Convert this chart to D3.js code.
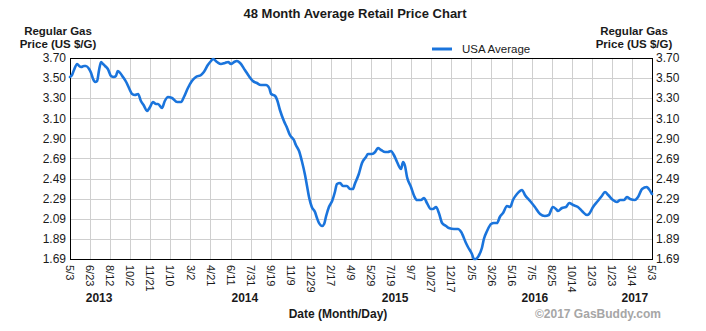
<!DOCTYPE html>
<html>
<head>
<meta charset="utf-8">
<script src="https://cdn.jsdelivr.net/npm/d3@7"></script>
<style>
  html, body { margin: 0; padding: 0; background: #fff; }
  svg { display: block; font-family: "Liberation Sans", Arial, sans-serif; }
</style>
</head>
<body>
<svg id="chart" width="706" height="331"></svg>
<script>
// ---------- DATA ----------
const title = "48 Month Average Retail Price Chart";
const seriesName = "USA Average";
const startDate = "2013-05-03";
const endDate = "2017-05-03";

const dates = [
"2013-05-03","2013-05-08","2013-05-13","2013-05-21","2013-05-26","2013-05-31","2013-06-07","2013-06-12","2013-06-20","2013-06-25",
"2013-06-30","2013-07-05","2013-07-10","2013-07-15","2013-07-20","2013-07-25","2013-07-30","2013-08-06","2013-08-14","2013-08-21",
"2013-08-26","2013-08-31","2013-09-06","2013-09-13","2013-09-21","2013-09-28","2013-10-06","2013-10-13","2013-10-21","2013-10-28",
"2013-11-05","2013-11-12","2013-11-20","2013-11-27","2013-12-05","2013-12-10","2013-12-20","2013-12-27","2014-01-04","2014-01-14",
"2014-01-27","2014-02-06","2014-02-13","2014-02-23","2014-03-05","2014-03-15","2014-03-28","2014-04-04","2014-04-14","2014-04-22",
"2014-04-27","2014-05-07","2014-05-17","2014-05-27","2014-06-04","2014-06-11","2014-06-19","2014-06-26","2014-07-04","2014-07-16",
"2014-07-26","2014-08-05","2014-08-15","2014-08-25","2014-09-07","2014-09-15","2014-09-20","2014-09-30","2014-10-05","2014-10-12",
"2014-10-22","2014-10-30","2014-11-06","2014-11-16","2014-11-21","2014-11-29","2014-12-06","2014-12-14","2014-12-19","2014-12-24",
"2014-12-31","2015-01-08","2015-01-13","2015-01-18","2015-01-26","2015-01-31","2015-02-05","2015-02-12","2015-02-20","2015-02-27",
"2015-03-04","2015-03-12","2015-03-19","2015-03-29","2015-04-06","2015-04-13","2015-04-18","2015-04-28","2015-05-06","2015-05-16",
"2015-05-21","2015-05-31","2015-06-08","2015-06-15","2015-06-23","2015-07-03","2015-07-10","2015-07-18","2015-07-25","2015-08-02",
"2015-08-12","2015-08-17","2015-08-22","2015-08-27","2015-09-06","2015-09-14","2015-09-21","2015-10-01","2015-10-09","2015-10-16",
"2015-10-26","2015-10-31","2015-11-08","2015-11-15","2015-11-23","2015-12-03","2015-12-10","2015-12-23","2016-01-02","2016-01-10",
"2016-01-22","2016-01-27","2016-02-06","2016-02-11","2016-02-16","2016-02-21","2016-03-02","2016-03-07","2016-03-15","2016-03-25",
"2016-04-01","2016-04-09","2016-04-16","2016-04-24","2016-05-04","2016-05-12","2016-05-19","2016-05-29","2016-06-11","2016-06-18",
"2016-07-01","2016-07-13","2016-07-26","2016-08-07","2016-08-17","2016-08-27","2016-09-04","2016-09-09","2016-09-19","2016-09-29",
"2016-10-07","2016-10-17","2016-10-29","2016-11-08","2016-11-21","2016-11-26","2016-12-06","2016-12-18","2016-12-28","2017-01-05",
"2017-01-13","2017-01-25","2017-02-04","2017-02-12","2017-02-22","2017-03-01","2017-03-09","2017-03-21","2017-03-29","2017-04-08",
"2017-04-20","2017-04-25","2017-05-03"
];

const prices = [
3.51,3.53,3.58,3.64,3.62,3.61,3.62,3.62,3.59,3.55,
3.49,3.46,3.47,3.58,3.66,3.64,3.62,3.59,3.52,3.51,
3.52,3.57,3.55,3.51,3.46,3.40,3.34,3.33,3.34,3.27,
3.22,3.17,3.21,3.26,3.24,3.24,3.20,3.27,3.31,3.30,
3.26,3.26,3.31,3.40,3.47,3.51,3.53,3.56,3.63,3.67,
3.69,3.66,3.64,3.65,3.66,3.64,3.66,3.67,3.65,3.58,
3.52,3.47,3.45,3.43,3.43,3.40,3.34,3.32,3.28,3.18,
3.07,3.00,2.93,2.88,2.83,2.77,2.67,2.53,2.42,2.31,
2.21,2.16,2.10,2.05,2.02,2.04,2.12,2.21,2.27,2.36,
2.44,2.45,2.42,2.42,2.39,2.39,2.44,2.54,2.65,2.71,
2.74,2.74,2.76,2.80,2.78,2.76,2.76,2.77,2.73,2.66,
2.59,2.66,2.62,2.51,2.41,2.32,2.28,2.28,2.30,2.25,
2.19,2.19,2.21,2.15,2.05,2.02,2.00,1.99,1.99,1.96,
1.85,1.81,1.74,1.69,1.69,1.71,1.80,1.89,1.97,2.04,
2.05,2.05,2.11,2.15,2.22,2.21,2.28,2.34,2.38,2.33,
2.27,2.21,2.14,2.12,2.13,2.21,2.19,2.17,2.20,2.21,
2.25,2.23,2.21,2.17,2.13,2.14,2.21,2.27,2.32,2.36,
2.33,2.28,2.26,2.28,2.28,2.31,2.29,2.28,2.31,2.39,
2.41,2.39,2.34
];

const xTickLabels = ["5/3","6/23","8/12","10/2","11/21","1/10","3/2","4/21","6/11","7/31",
  "9/19","11/9","12/29","2/17","4/9","5/29","7/19","9/7","10/27","12/17",
  "2/5","3/26","5/16","7/5","8/25","10/14","12/3","1/23","3/14","5/3"];
const yTickLabels = ["1.69","1.89","2.09","2.29","2.49","2.69","2.90","3.10","3.30","3.50","3.70"];
const yMin = 1.69, yMax = 3.70;
const yearLabels = ["2013","2014","2015","2016","2017"];
const yearDates = ["2013-07-15","2014-07-16","2015-07-28","2016-07-13","2017-03-21"];

// ---------- LAYOUT ----------
const W = 706, H = 331;
const plot = {left: 70, right: 652, top: 58, bottom: 259};
const lineColor = "#1a74dc";
const textColor = "#1a1a1a";
const parse = d3.timeParse("%Y-%m-%d");

const svg = d3.select("#chart");
svg.append("rect").attr("width", W).attr("height", H).attr("fill", "#fff");

const x = d3.scaleTime().domain([parse(startDate), parse(endDate)]).range([plot.left, plot.right]);
const xIdx = d3.scaleLinear().domain([0, xTickLabels.length - 1]).range([plot.left, plot.right]);
const y = d3.scaleLinear().domain([yMin, yMax]).range([plot.bottom, plot.top]);
const yTickVals = yTickLabels.map((_, i) => yMin + i * (yMax - yMin) / (yTickLabels.length - 1));

// gridlines
const grid = svg.append("g").attr("stroke", "#cfcfcf").attr("stroke-width", 1).attr("shape-rendering", "crispEdges");
grid.selectAll("line.v").data(xTickLabels).join("line")
  .attr("x1", (d, i) => Math.round(xIdx(i)) + 0.5).attr("x2", (d, i) => Math.round(xIdx(i)) + 0.5)
  .attr("y1", plot.top).attr("y2", plot.bottom);
grid.selectAll("line.h").data(yTickVals).join("line")
  .attr("x1", plot.left).attr("x2", plot.right)
  .attr("y1", d => Math.round(y(d)) + 0.5).attr("y2", d => Math.round(y(d)) + 0.5);

// frame
svg.append("rect")
  .attr("x", plot.left + 0.5).attr("y", plot.top + 0.5)
  .attr("width", plot.right - plot.left).attr("height", plot.bottom - plot.top)
  .attr("fill", "none").attr("stroke", "#000").attr("stroke-width", 1.3)
  .attr("shape-rendering", "crispEdges");

// y axes labels (left and right)
const yl = svg.append("g").attr("font-size", 12).attr("fill", textColor);
yl.selectAll("text.l").data(yTickVals).join("text")
  .attr("x", plot.left - 4).attr("y", d => y(d)).attr("dy", "0.35em")
  .attr("text-anchor", "end").text((d, i) => yTickLabels[i]);
yl.selectAll("text.r").data(yTickVals).join("text")
  .attr("x", plot.right + 4).attr("y", d => y(d)).attr("dy", "0.35em")
  .attr("text-anchor", "start").text((d, i) => yTickLabels[i]);

// x tick labels, rotated
const xl = svg.append("g").attr("font-size", 11).attr("fill", textColor);
xl.selectAll("text").data(xTickLabels).join("text")
  .attr("transform", (d, i) => `translate(${xIdx(i)},${plot.bottom + 6}) rotate(90)`)
  .attr("dy", "0.35em").attr("text-anchor", "start").text(d => d);

// year labels
svg.append("g").attr("font-size", 12).attr("font-weight", "bold").attr("fill", textColor)
  .selectAll("text").data(yearLabels).join("text")
  .attr("x", (d, i) => x(parse(yearDates[i]))).attr("y", 302)
  .attr("text-anchor", "middle").text(d => d);

// line
const line = d3.line()
  .x((d, i) => x(parse(dates[i])))
  .y(d => y(d))
  .curve(d3.curveMonotoneX);
svg.append("path").datum(prices)
  .attr("d", line).attr("fill", "none")
  .attr("stroke", lineColor).attr("stroke-width", 2.6)
  .attr("stroke-linejoin", "round").attr("stroke-linecap", "round");

// title
svg.append("text").attr("x", 355).attr("y", 18).attr("text-anchor", "middle")
  .attr("font-size", 13).attr("font-weight", "bold").attr("fill", textColor).text(title);

// axis titles (two separate lines)
function axisTitle(cx) {
  const g = svg.append("g").attr("text-anchor", "middle").attr("font-size", 11.5)
    .attr("font-weight", "bold").attr("fill", textColor);
  g.append("text").attr("x", cx).attr("y", 34.5).text("Regular Gas");
  g.append("text").attr("x", cx).attr("y", 47.5).text("Price (US $/G)");
}
axisTitle(58);
axisTitle(634);

// legend
svg.append("line").attr("x1", 432).attr("x2", 452).attr("y1", 49).attr("y2", 49)
  .attr("stroke", lineColor).attr("stroke-width", 3);
svg.append("text").attr("x", 462).attr("y", 53).attr("font-size", 11.5)
  .attr("fill", textColor).text(seriesName);

// bottom titles
svg.append("text").attr("x", 338).attr("y", 318).attr("text-anchor", "middle")
  .attr("font-size", 12).attr("font-weight", "bold").attr("fill", textColor).text("Date (Month/Day)");
svg.append("text").attr("x", 661).attr("y", 318).attr("text-anchor", "end")
  .attr("font-size", 12).attr("font-weight", "bold").attr("fill", "#a6a6a6").text("©2017 GasBuddy.com");
</script>
</body>
</html>
